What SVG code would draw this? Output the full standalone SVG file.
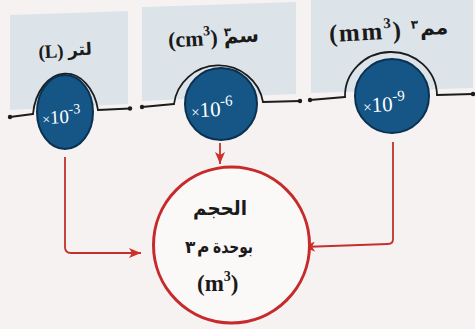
<svg xmlns="http://www.w3.org/2000/svg" width="475" height="329" viewBox="0 0 475 329">
<defs>
<style>
.panel{fill:#dde4e9}
.bar{fill:none;stroke:#1c1c1c;stroke-width:1.8;stroke-linecap:round}
.dot{fill:#1c1c1c}
.oval{fill:#155686;stroke:#0b3152;stroke-width:2}
.ov{font-family:"Liberation Serif",serif;fill:#ffffff}
.lbl{font-family:"Liberation Serif",serif;font-weight:bold;fill:#1a1a1a}
.ar{font-family:"DejaVu Sans","Noto Sans",sans-serif;font-weight:bold;fill:#1a1a1a}
.conn{fill:none;stroke:#c3302c;stroke-width:1.8}
.big{fill:#fbf8f8;stroke:#c62a2a;stroke-width:3}
</style>
<marker id="ah" markerUnits="userSpaceOnUse" markerWidth="12" markerHeight="10" refX="12" refY="5" orient="auto">
<path d="M0,0 L12,5 L0,10 L3,5 z" fill="#d0302a"/>
</marker>
</defs>
<rect width="475" height="329" fill="#f6f2f2"/>

<g id="panel-L">
<polygon class="panel" points="10,15 128,11 128,104 10,110"/>
<g transform="rotate(-3 66 52)">
<text class="lbl" x="51" y="57" text-anchor="middle" style="font-size:19px">(L)</text>
<text class="ar" x="92" y="56" text-anchor="end" style="font-size:17px">لتر</text>
</g>
</g>
<g id="panel-cm3">
<polygon class="panel" points="142,7 296,2 296,94 142,101"/>
<g transform="rotate(-3 212 38)">
<text class="lbl" x="168" y="45" style="font-size:22px">(cm<tspan style="font-size:14px" dy="-10">3</tspan><tspan dy="10">)</tspan></text>
<text class="ar" x="259" y="44" text-anchor="end" style="font-size:20px">سم</text>
<text class="ar" x="224" y="37" style="font-size:12px">٣</text>
</g>
</g>
<g id="panel-mm3">
<polygon class="panel" points="311,-1 473,-7 473,88 311,93"/>
<g transform="rotate(-3 387 30)">
<text class="lbl" x="329" y="39" style="font-size:25px;letter-spacing:1.5px">(mm<tspan style="font-size:15px" dy="-11">3</tspan><tspan dy="11">)</tspan></text>
<text class="ar" x="448" y="37" text-anchor="end" style="font-size:20px">مم</text>
<text class="ar" x="411" y="30" style="font-size:12px">٣</text>
</g>
</g>

<g id="bar">
<path class="bar" d="M10,117 L33,114 M98,110 L130,108.5 M142,107 L174,104 M263,102 L300,101 M310,100 L345,97 M437,95 L473,94"/>
<path class="bar" d="M33,114 A33,46 0 0 1 98,110"/>
<path class="bar" d="M174,104 A45,44 0 0 1 263,102"/>
<path class="bar" d="M345,97 A46,44 0 0 1 437,95"/>
<circle class="dot" cx="10" cy="117" r="2.2"/>
<circle class="dot" cx="130" cy="108.5" r="2.2"/>
<circle class="dot" cx="142" cy="107" r="2.2"/>
<circle class="dot" cx="300" cy="101" r="2.2"/>
<circle class="dot" cx="310" cy="100" r="2.2"/>
<circle class="dot" cx="473" cy="94" r="2.2"/>
</g>

<g id="oval-L">
<ellipse class="oval" cx="65" cy="112" rx="28" ry="37"/>
<text class="ov" x="42" y="123" transform="rotate(-3 65 115)" style="font-size:19px"><tspan style="font-size:14px">×</tspan>10<tspan style="font-size:14px" dy="-9">-3</tspan></text>
</g>
<g id="oval-cm3">
<circle class="oval" cx="221" cy="104" r="36"/>
<text class="ov" x="191" y="116" transform="rotate(-3 221 108)" style="font-size:21px"><tspan style="font-size:15px">×</tspan>10<tspan style="font-size:15px" dy="-10">-6</tspan></text>
</g>
<g id="oval-mm3">
<circle class="oval" cx="392" cy="96" r="37"/>
<text class="ov" x="363" y="111" transform="rotate(-3 392 102)" style="font-size:21px"><tspan style="font-size:15px">×</tspan>10<tspan style="font-size:15px" dy="-10">-9</tspan></text>
</g>

<g id="connectors">
<path class="conn" d="M65,157 L65,247 Q65,253 71,253 L141,253" marker-end="url(#ah)"/>
<path class="conn" d="M220,143 L220,164" marker-end="url(#ah)"/>
<path class="conn" d="M393,142 L393,239 Q393,244 388,244 L303,247" marker-end="url(#ah)"/>
</g>

<g id="volume">
<circle class="big" cx="231.5" cy="245" r="78"/>
<text class="ar" x="220" y="215" text-anchor="middle" style="font-size:20px" textLength="54" lengthAdjust="spacingAndGlyphs">الحجم</text>
<text class="ar" x="213" y="253" style="font-size:18px" textLength="40" lengthAdjust="spacingAndGlyphs">بوحدة</text>
<text class="ar" x="197" y="253" style="font-size:17px">م</text>
<text class="ar" x="185" y="253" style="font-size:17px">٣</text>
<text class="lbl" x="197" y="291" style="font-size:23px">(m<tspan style="font-size:14px" dy="-10">3</tspan><tspan dy="10">)</tspan></text>
</g>
</svg>
